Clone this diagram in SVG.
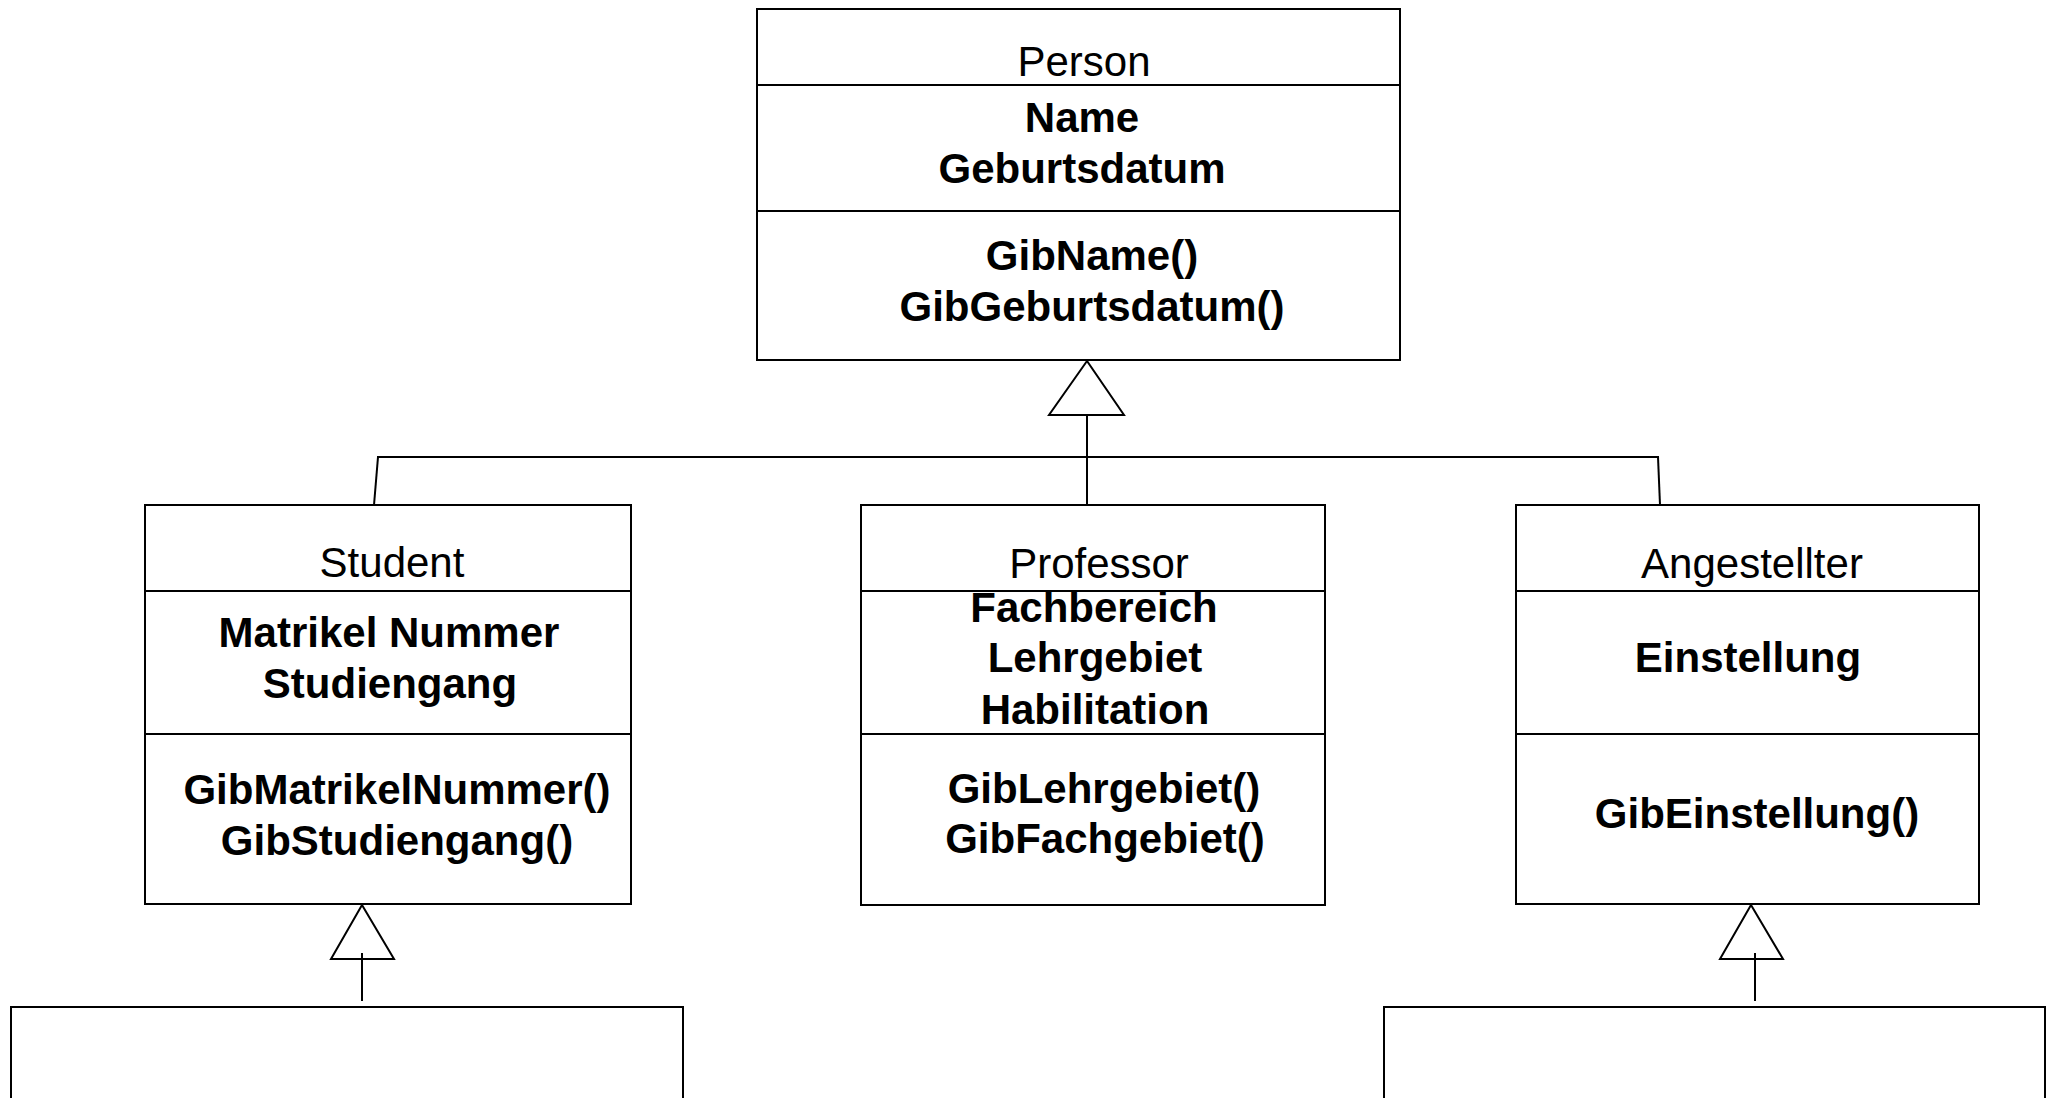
<svg xmlns="http://www.w3.org/2000/svg" width="2051" height="1098" viewBox="0 0 2051 1098">
  <style>
    .box { fill: #ffffff; stroke: #000000; stroke-width: 2; }
    .sep { stroke: #000000; stroke-width: 2; fill: none; }
    .edge { stroke: #000000; stroke-width: 2; fill: none; }
    .head { fill: #ffffff; stroke: #000000; stroke-width: 2; stroke-linejoin: miter; }
    .title { font-family: "Liberation Sans", Arial, sans-serif; font-size: 42px; text-anchor: middle; fill: #000000; }
    .member { font-family: "Liberation Sans", Arial, sans-serif; font-size: 42px; font-weight: bold; text-anchor: middle; fill: #000000; }
  </style>
  <rect x="0" y="0" width="2051" height="1098" fill="#ffffff"/>

  <!-- class boxes -->
  <g id="person">
    <rect class="box" x="757" y="9" width="643" height="351"/>
    <line class="sep" x1="757" y1="85" x2="1400" y2="85"/>
    <line class="sep" x1="757" y1="211" x2="1400" y2="211"/>
    <text class="title" x="1084" y="76">Person</text>
    <text class="member" x="1082" y="132">Name</text>
    <text class="member" x="1082" y="183">Geburtsdatum</text>
    <text class="member" x="1092" y="270">GibName()</text>
    <text class="member" x="1092" y="321">GibGeburtsdatum()</text>
  </g>

  <g id="student">
    <rect class="box" x="145" y="505" width="486" height="399"/>
    <line class="sep" x1="145" y1="591" x2="631" y2="591"/>
    <line class="sep" x1="145" y1="734" x2="631" y2="734"/>
    <text class="title" x="392" y="577">Student</text>
    <text class="member" x="389" y="647">Matrikel Nummer</text>
    <text class="member" x="390" y="698">Studiengang</text>
    <text class="member" x="397" y="804">GibMatrikelNummer()</text>
    <text class="member" x="397" y="855">GibStudiengang()</text>
  </g>

  <g id="professor">
    <rect class="box" x="861" y="505" width="464" height="400"/>
    <line class="sep" x1="861" y1="591" x2="1325" y2="591"/>
    <line class="sep" x1="861" y1="734" x2="1325" y2="734"/>
    <text class="title" x="1099" y="578">Professor</text>
    <text class="member" x="1094" y="622">Fachbereich</text>
    <text class="member" x="1095" y="672">Lehrgebiet</text>
    <text class="member" x="1095" y="724">Habilitation</text>
    <text class="member" x="1104" y="803">GibLehrgebiet()</text>
    <text class="member" x="1105" y="853">GibFachgebiet()</text>
  </g>

  <g id="angestellter">
    <rect class="box" x="1516" y="505" width="463" height="399"/>
    <line class="sep" x1="1516" y1="591" x2="1979" y2="591"/>
    <line class="sep" x1="1516" y1="734" x2="1979" y2="734"/>
    <text class="title" x="1752" y="578">Angestellter</text>
    <text class="member" x="1748" y="672">Einstellung</text>
    <text class="member" x="1757" y="828">GibEinstellung()</text>
  </g>

  <!-- subclass boxes running off the bottom edge -->
  <g id="student-sub">
    <polyline class="sep" points="11,1100 11,1007 683,1007 683,1100"/>
  </g>
  <g id="angestellter-sub">
    <polyline class="sep" points="1384,1100 1384,1007 2045,1007 2045,1100"/>
  </g>

  <!-- generalization connectors -->
  <g id="connectors">
    <line class="edge" x1="1087" y1="415" x2="1087" y2="505"/>
    <line class="edge" x1="377" y1="457" x2="1659" y2="457"/>
    <line class="edge" x1="378" y1="457" x2="374" y2="505"/>
    <line class="edge" x1="1658" y1="457" x2="1660" y2="505"/>
    <polygon class="head" points="1087,361 1049,415 1124,415"/>

    <polygon class="head" points="362,905 331,959 394,959"/>
    <line class="edge" x1="362" y1="953" x2="362" y2="1001"/>

    <polygon class="head" points="1751,905 1720,959 1783,959"/>
    <line class="edge" x1="1755" y1="953" x2="1755" y2="1001"/>
  </g>
</svg>
